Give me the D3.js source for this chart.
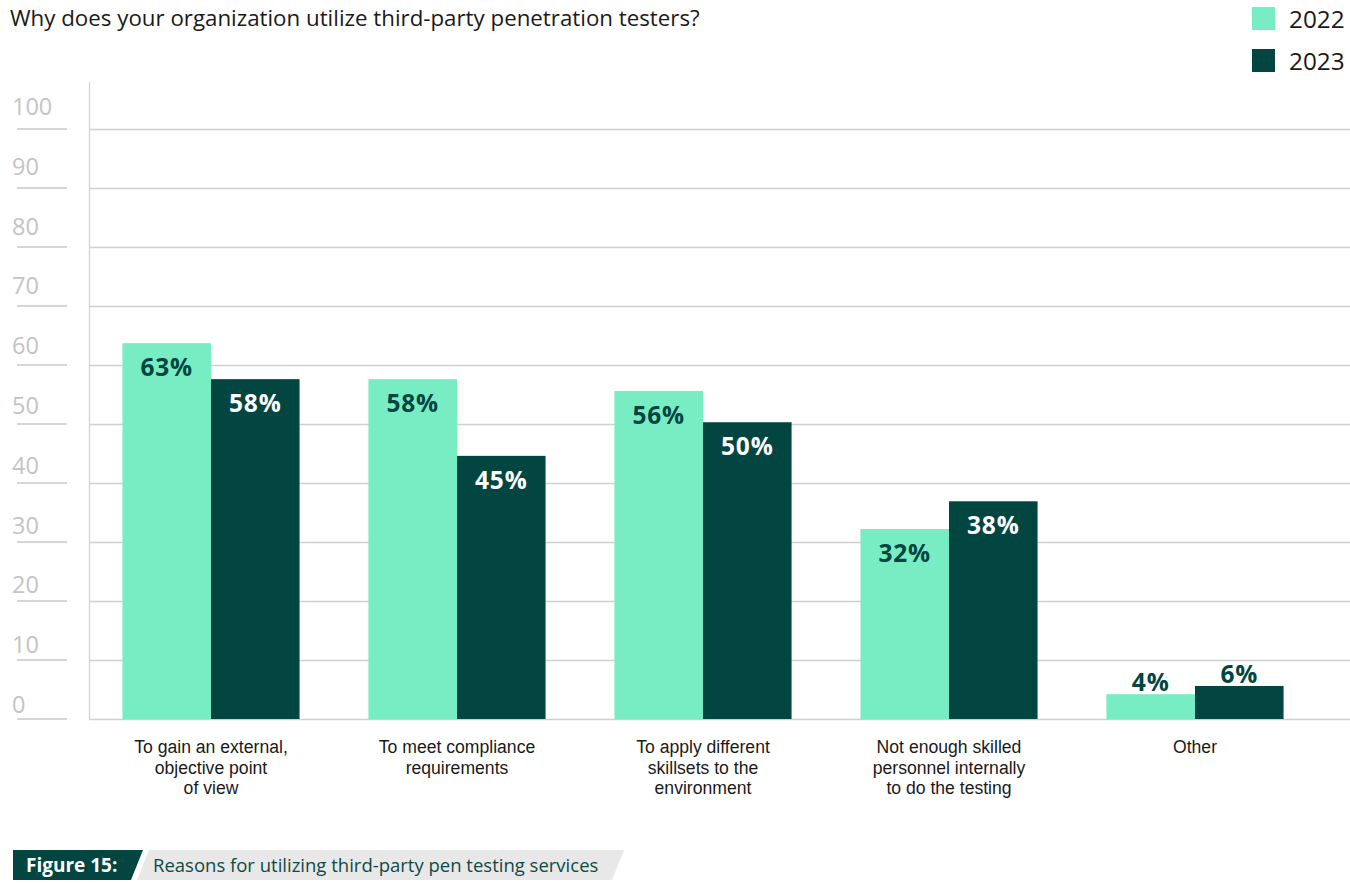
<!DOCTYPE html>
<html>
<head>
<meta charset="utf-8">
<script src="https://cdn.jsdelivr.net/npm/d3@7"></script>
<style>
  body { margin: 0; background: #fff; }
  text { font-family: "Open Sans", "Noto Sans", sans-serif; }
  text.cat { font-family: "Liberation Sans", Arial, sans-serif; }
</style>
</head>
<body>
<div id="chart"></div>
<script>
// chart data
const categories = [
  ["To gain an external,", "objective point", "of view"],
  ["To meet compliance", "requirements"],
  ["To apply different", "skillsets to the", "environment"],
  ["Not enough skilled", "personnel internally", "to do the testing"],
  ["Other"]
];
const years = ["2022", "2023"];
const values2022 = [63.7, 57.6, 55.6, 32.2, 4.2];
const values2023 = [57.6, 44.6, 50.3, 36.9, 5.6];
const labels2022 = ["63%", "58%", "56%", "32%", "4%"];
const labels2023 = ["58%", "45%", "50%", "38%", "6%"];
const yTicks = [0, 10, 20, 30, 40, 50, 60, 70, 80, 90, 100];

const W = 1350, H = 883;
const light = "#78ecc3", dark = "#024541";

const svg = d3.select("#chart")
  .append("svg")
  .attr("width", W)
  .attr("height", H);

// scales
const x = d3.scaleBand()
  .domain(d3.range(categories.length))
  .range([88, 1318])
  .paddingInner(0.28)
  .paddingOuter(0.14);

const xs = d3.scaleBand()
  .domain(years)
  .range([0, x.bandwidth()]);

const y = d3.scaleLinear()
  .domain([0, 100])
  .range([719, 129]);

// the tick labels sit on a slightly wider spacing than the gridlines
const yLab = d3.scaleLinear()
  .domain([0, 100])
  .range([713, 115]);

// title
svg.append("text")
  .attr("x", 10)
  .attr("y", 26)
  .attr("font-size", 22.3)
  .attr("fill", "#1a1a1a")
  .text("Why does your organization utilize third-party penetration testers?");

// gridlines
svg.append("g")
  .attr("transform", "translate(89,0)")
  .call(d3.axisRight(y).tickValues(yTicks).tickSize(W - 89).tickFormat(""))
  .call(g => g.select(".domain").remove())
  .call(g => g.selectAll("line").attr("stroke", "#cfcfcf").attr("stroke-width", 1.3));

// vertical axis line
svg.append("line")
  .attr("x1", 89.5).attr("x2", 89.5)
  .attr("y1", 82).attr("y2", y(0))
  .attr("stroke", "#d4d4d4")
  .attr("stroke-width", 1.3);

// short stubs at the left + labels above them
svg.append("g").selectAll("line")
  .data(yTicks)
  .join("line")
  .attr("x1", 17).attr("x2", 67)
  .attr("y1", d => y(d)).attr("y2", d => y(d))
  .attr("stroke", "#c8c8c8")
  .attr("stroke-width", 1.3);
svg.append("g").selectAll("text")
  .data(yTicks)
  .join("text")
  .attr("x", 12)
  .attr("y", d => yLab(d))
  .attr("font-size", 23.5)
  .attr("fill", "#c4c4c4")
  .text(d => d);

// bars
const groups = svg.append("g").selectAll("g")
  .data(categories)
  .join("g")
  .attr("transform", (d, i) => `translate(${x(i)},0)`);

const rows = (i) => [
  {year: "2022", v: values2022[i], label: labels2022[i], fill: light, txt: dark},
  {year: "2023", v: values2023[i], label: labels2023[i], fill: dark, txt: "#ffffff"}
];

groups.each(function (c, i) {
  const g = d3.select(this);
  const data = rows(i);
  g.selectAll("rect")
    .data(data)
    .join("rect")
    .attr("x", d => xs(d.year))
    .attr("width", xs.bandwidth())
    .attr("y", d => y(d.v))
    .attr("height", d => y(0) - y(d.v))
    .attr("fill", d => d.fill);

  const small = i === categories.length - 1;
  g.selectAll("text.val")
    .data(data)
    .join("text")
    .attr("class", "val")
    .attr("x", d => xs(d.year) + xs.bandwidth() / 2)
    .attr("y", d => small ? y(d.v) - 3 : y(d.v) + 33)
    .attr("text-anchor", "middle")
    .attr("font-size", 24.5)
    .attr("font-weight", "bold")
    .attr("letter-spacing", 0.8)
    .attr("fill", d => small ? dark : d.txt)
    .text(d => d.label);

  // category label, one text per line
  g.selectAll("text.cat")
    .data(c)
    .join("text")
    .attr("class", "cat")
    .attr("x", x.bandwidth() / 2)
    .attr("y", (d, j) => 753 + j * 20.6)
    .attr("text-anchor", "middle")
    .attr("font-size", 17.6)
    .attr("fill", "#1a1a1a")
    .text(d => d);
});

// legend
const legend = svg.append("g").selectAll("g")
  .data(years)
  .join("g")
  .attr("transform", (d, i) => `translate(1252,${7 + i * 42})`);
legend.append("rect")
  .attr("width", 23).attr("height", 23)
  .attr("fill", (d, i) => i === 0 ? light : dark);
legend.append("text")
  .attr("x", 37)
  .attr("y", 20.5)
  .attr("font-size", 24.3)
  .attr("fill", "#1a1a1a")
  .text(d => d);

// figure caption
const cap = svg.append("g");
cap.append("path")
  .attr("d", "M137,880 L149,850 L624,850 L612,880 Z")
  .attr("fill", "#e8e8e8");
cap.append("path")
  .attr("d", "M13,850 L143,850 L131,880 L13,880 Z")
  .attr("fill", dark);
cap.append("text")
  .attr("x", 26).attr("y", 872)
  .attr("font-size", 19)
  .attr("font-weight", "bold")
  .attr("fill", "#fff")
  .text("Figure 15:");
cap.append("text")
  .attr("x", 153).attr("y", 872)
  .attr("font-size", 18.5)
  .attr("fill", "#0f4a45")
  .text("Reasons for utilizing third-party pen testing services");
</script>
</body>
</html>
